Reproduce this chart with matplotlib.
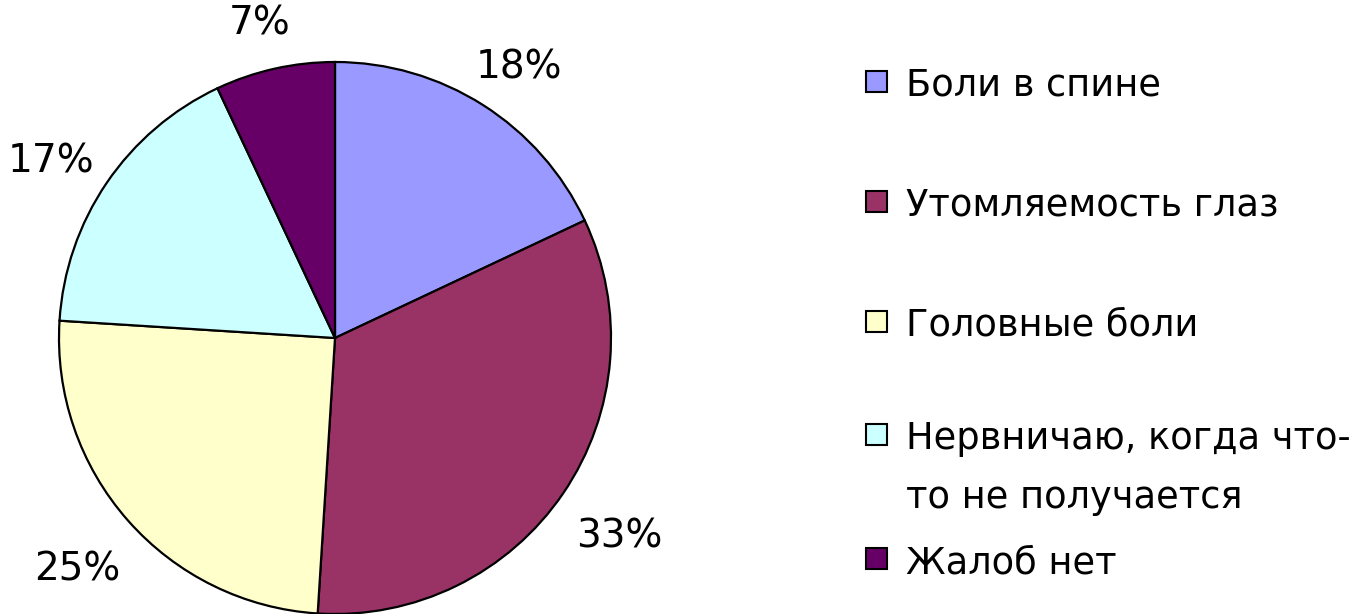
import matplotlib.pyplot as plt
from matplotlib.patches import Rectangle
import numpy as np

labels = ["Боли в спине", "Утомляемость глаз", "Головные боли",
          "Нервничаю, когда что-\nто не получается", "Жалоб нет"]
values = [18, 33, 25, 17, 7]
colors = ["#9999FF", "#993366", "#FFFFCC", "#CCFFFF", "#660066"]

plt.rcParams['font.family'] = ['DejaVu Sans']

fig = plt.figure(figsize=(13.66, 6.14), dpi=100)
W, H = 1366, 614
cx, cy, r = 335, 338, 276
ax = fig.add_axes([(cx - r * 1.3) / W, (H - cy - r * 1.3) / H, 2.6 * r / W, 2.6 * r / H])

wedges, texts, autotexts = ax.pie(values, colors=colors, startangle=90, counterclock=False,
                                  autopct='%1.0f%%', pctdistance=1.21,
                                  wedgeprops=dict(edgecolor='black', linewidth=1.6),
                                  textprops=dict(fontsize=28))
ax.set_xlim(-1.3, 1.3)
ax.set_ylim(-1.3, 1.3)
ax.set_aspect('equal')
ax.axis('off')

# labels sit a touch lower than the mid-angle point in the original
for t in autotexts:
    x, y = t.get_position()
    t.set_position((x * 1.03, y - 0.04))

# legend drawn by hand to match the uneven spacing of the original
baselines = [96, 216, 336, 449, 573]
for lab, col, y in zip(labels, colors, baselines):
    fig.patches.append(Rectangle((866 / W, (H - y + 4) / H), 21 / W, 21 / H,
                                 transform=fig.transFigure, facecolor=col,
                                 edgecolor='black', linewidth=1.5))
    lines = lab.split("\n")
    fig.text(906 / W, (H - y) / H, lines[0], fontsize=26.5, va='baseline', ha='left')
    if len(lines) > 1:
        fig.text(906 / W, (H - y - 59) / H, lines[1], fontsize=26.5, va='baseline', ha='left')

fig.savefig("out.png", dpi=100)
